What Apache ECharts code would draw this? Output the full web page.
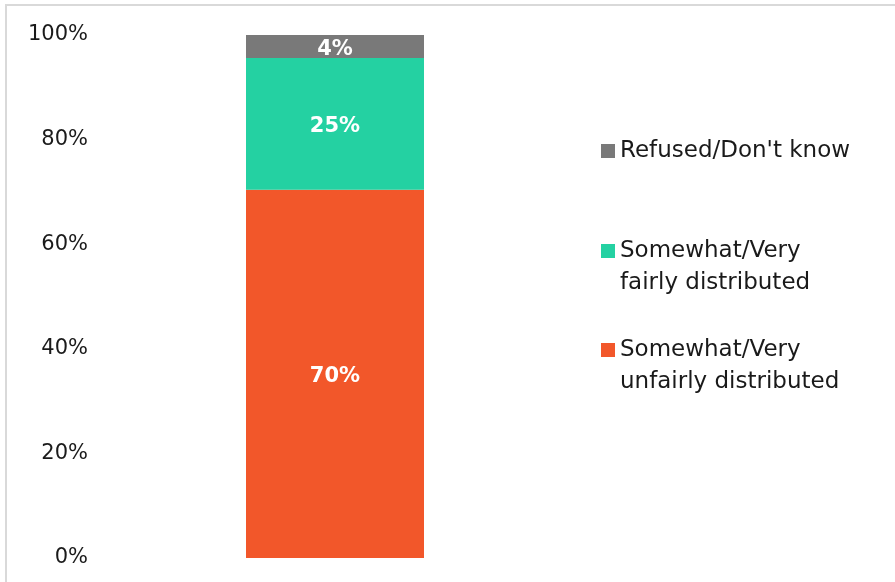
<!DOCTYPE html>
<html>
<head>
<meta charset="utf-8">
<script src="https://cdn.jsdelivr.net/npm/echarts@6/dist/echarts.min.js"></script>
<style>
  html, body { margin: 0; padding: 0; background: #fff; }
  #chart { width: 895px; height: 582px; }
</style>
</head>
<body>
<div id="chart"></div>
<script>
const categories = ['All'];
const unfairValues = [70.4];
const fairValues = [25.2];
const refusedValues = [4.4];
const yTicks = [0, 20, 40, 60, 80, 100];

const FONT = "'Century Gothic', 'DejaVu Sans', sans-serif";
const colors = { unfair: '#f2572a', fair: '#24d1a2', refused: '#797979' };

const chart = echarts.init(document.getElementById('chart'), null, { renderer: 'canvas' });

const labelStyle = {
  show: true,
  position: 'inside',
  offset: [0, 3],
  color: '#fff',
  fontFamily: FONT,
  fontWeight: 'bold',
  fontSize: 21,
  formatter: p => Math.round(p.value) + '%',
};

// a leading blank line keeps the icon level with the first text line
const legendBase = {
  orient: 'vertical',
  left: 601,
  padding: 0,
  itemWidth: 14,
  itemHeight: 14,
  icon: 'rect',
  selectedMode: false,
  formatter: name => name.indexOf('\n') >= 0 ? '\n' + name : name,
  textStyle: { fontFamily: FONT, fontSize: 23, color: '#1a1a1a', lineHeight: 32 },
};

chart.setOption({
  animation: false,
  graphic: [{
    type: 'rect',
    shape: { x: 6, y: 5, width: 1000, height: 1000 },
    style: { fill: 'none', stroke: '#d9d9d9', lineWidth: 2 },
    silent: true,
  }],
  legend: [
    Object.assign({}, legendBase, { top: 135, data: ['Refused/Don\'t know'] }),
    Object.assign({}, legendBase, { top: 203, data: ['Somewhat/Very\nfairly distributed'] }),
    Object.assign({}, legendBase, { top: 302, data: ['Somewhat/Very\nunfairly distributed'] }),
  ],
  grid: { left: 96, right: 321, top: 35, bottom: 24, containLabel: false },
  xAxis: {
    type: 'category',
    data: categories,
    axisLine: { show: false },
    axisTick: { show: false },
    axisLabel: { show: false },
  },
  yAxis: {
    type: 'value',
    min: yTicks[0],
    max: yTicks[yTicks.length - 1],
    interval: yTicks[1] - yTicks[0],
    axisLine: { show: false },
    axisTick: { show: false },
    splitLine: { show: false },
    axisLabel: { formatter: '{value}%', color: '#1a1a1a', fontFamily: FONT, fontSize: 21, margin: 8 },
  },
  series: [
    {
      name: 'Somewhat/Very\nunfairly distributed', type: 'bar', stack: 'total', barWidth: 178,
      data: unfairValues, itemStyle: { color: colors.unfair }, label: labelStyle,
    },
    {
      name: 'Somewhat/Very\nfairly distributed', type: 'bar', stack: 'total', barWidth: 178,
      data: fairValues, itemStyle: { color: colors.fair }, label: labelStyle,
    },
    {
      name: 'Refused/Don\'t know', type: 'bar', stack: 'total', barWidth: 178,
      data: refusedValues, itemStyle: { color: colors.refused }, label: labelStyle,
    },
  ],
});
</script>
</body>
</html>
